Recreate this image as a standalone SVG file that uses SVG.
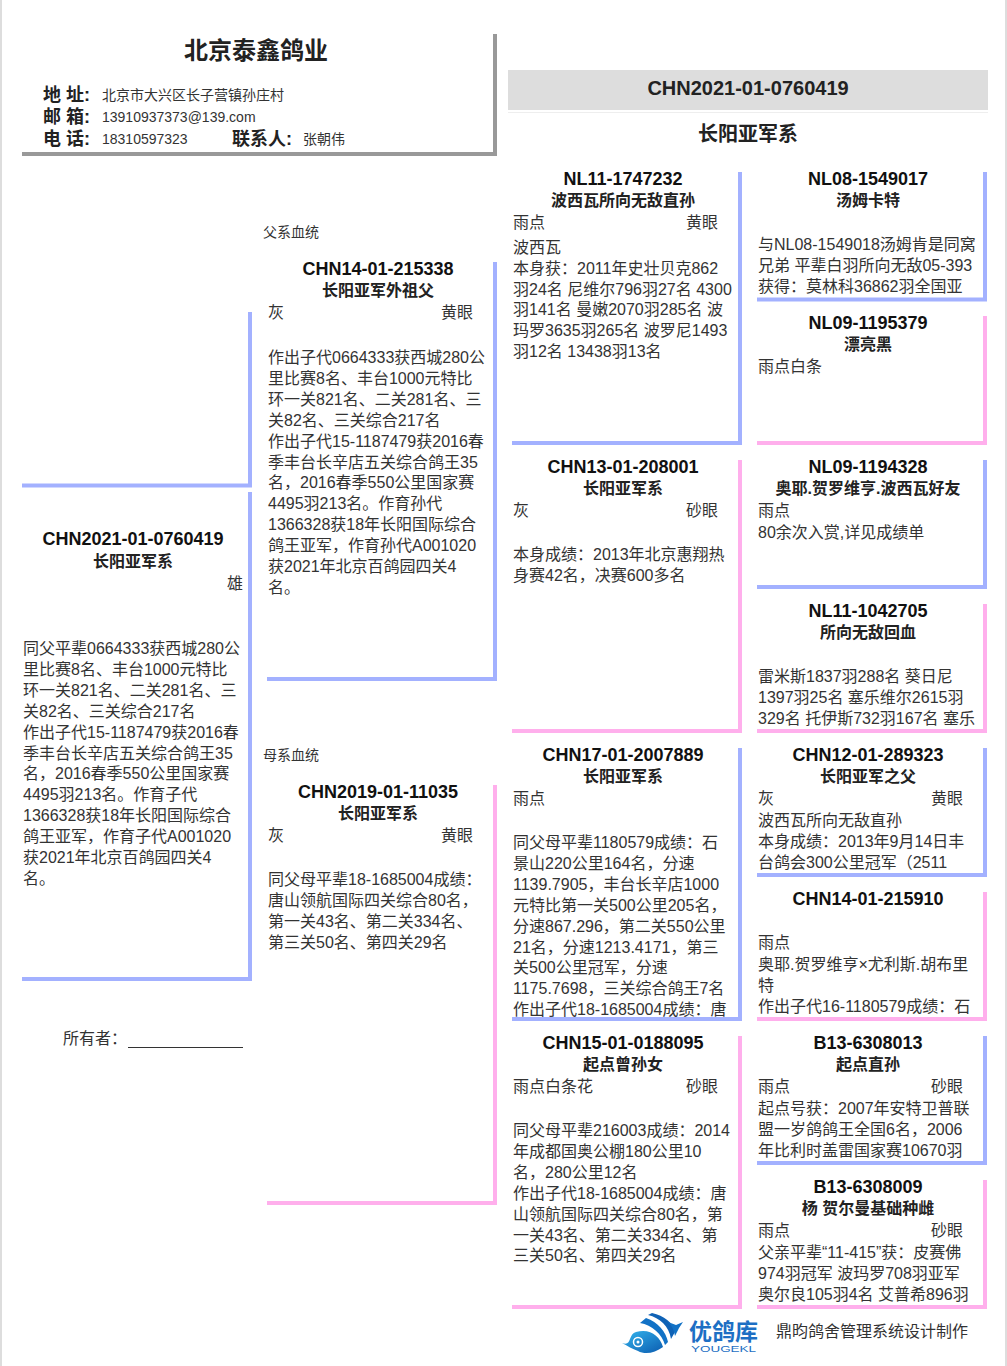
<svg xmlns="http://www.w3.org/2000/svg" width="1007" height="1366" viewBox="0 0 1007 1366">
<defs><linearGradient id="lg" x1="0" y1="0" x2="1" y2="1"><stop offset="0" stop-color="#35b6ee"/><stop offset="1" stop-color="#0b5cb0"/></linearGradient></defs>
<style>
text{font-family:"Liberation Sans","Noto Sans CJK SC",sans-serif;fill:#333;font-size:16px}
.t{font-weight:700;font-size:18px;text-anchor:middle;fill:#111}
.n{font-weight:700;font-size:16px;text-anchor:middle;fill:#222}
.h{font-weight:700;font-size:18px;fill:#222}
.s{font-size:14px}
.r{font-size:14px;fill:#333}
.bar{fill:none;stroke-width:4}
.m{stroke:#a3b1ff}
.f{stroke:#ffafec}
.g{stroke:#999}
</style>
<rect width="1007" height="1366" fill="#fff"/>
<path d="M1 0V1366M1006 0V1366" stroke="#ddd" stroke-width="2" fill="none"/>
<g id="header">
<text x="256" y="59" text-anchor="middle" style="font-weight:700;font-size:24px;fill:#222">北京泰鑫鸽业</text>
<text x="43" y="101" class="h">地 址:</text><text x="102" y="100" class="s">北京市大兴区长子营镇孙庄村</text>
<text x="43" y="123" class="h">邮 箱:</text><text x="102" y="122" class="s">13910937373@139.com</text>
<text x="43" y="145" class="h">电 话:</text><text x="102" y="144" class="s">18310597323</text>
<text x="232" y="145" class="h">联系人:</text><text x="303" y="144" class="s">张朝伟</text>
</g>
<g id="subject-title">
<rect x="508" y="70" width="480" height="40" fill="#ddd"/>
<path d="M508 112.500H988" stroke="#eee" fill="none"/>
<text x="748" y="95" text-anchor="middle" style="font-weight:700;font-size:20px;fill:#222">CHN2021-01-0760419</text>
<text x="748" y="141" text-anchor="middle" style="font-weight:700;font-size:20px;fill:#222">长阳亚军系</text>
</g>
<text id="sire-label" x="263" y="237" class="r">父系血统</text>
<text id="dam-label" x="263" y="760" class="r">母系血统</text>
<g id="node-subject">
<text x="133" y="545" class="t">CHN2021-01-0760419</text>
<text x="133" y="567" class="n">长阳亚军系</text>
<text x="227" y="589">雄</text>
<text x="23" y="654">同父平辈0664333获西城280公<tspan x="23" dy="20.9">里比赛8名、丰台1000元特比</tspan><tspan x="23" dy="20.9">环一关821名、二关281名、三</tspan><tspan x="23" dy="20.9">关82名、三关综合217名</tspan><tspan x="23" dy="20.9">作出子代15-1187479获2016春</tspan><tspan x="23" dy="20.9">季丰台长辛店五关综合鸽王35</tspan><tspan x="23" dy="20.9">名，2016春季550公里国家赛</tspan><tspan x="23" dy="20.9">4495羽213名。作育子代</tspan><tspan x="23" dy="20.9">1366328获18年长阳国际综合</tspan><tspan x="23" dy="20.9">鸽王亚军，作育子代A001020</tspan><tspan x="23" dy="20.9">获2021年北京百鸽园四关4</tspan><tspan x="23" dy="20.9">名。</tspan></text>
<text x="63" y="1044">所有者：</text>
<path d="M128 1047.500H243" stroke="#333" fill="none"/>
</g>
<g id="node-sire">
<text x="378" y="275" class="t">CHN14-01-215338</text>
<text x="378" y="296" class="n">长阳亚军外祖父</text>
<text x="268" y="318">灰</text><text x="441" y="318">黄眼</text>
<text x="268" y="363">作出子代0664333获西城280公<tspan x="268" dy="20.9">里比赛8名、丰台1000元特比</tspan><tspan x="268" dy="20.9">环一关821名、二关281名、三</tspan><tspan x="268" dy="20.9">关82名、三关综合217名</tspan><tspan x="268" dy="20.9">作出子代15-1187479获2016春</tspan><tspan x="268" dy="20.9">季丰台长辛店五关综合鸽王35</tspan><tspan x="268" dy="20.9">名，2016春季550公里国家赛</tspan><tspan x="268" dy="20.9">4495羽213名。作育孙代</tspan><tspan x="268" dy="20.9">1366328获18年长阳国际综合</tspan><tspan x="268" dy="20.9">鸽王亚军，作育孙代A001020</tspan><tspan x="268" dy="20.9">获2021年北京百鸽园四关4</tspan><tspan x="268" dy="20.9">名。</tspan></text>
</g>
<g id="node-dam">
<text x="378" y="798" class="t">CHN2019-01-11035</text>
<text x="378" y="819" class="n">长阳亚军系</text>
<text x="268" y="841">灰</text><text x="441" y="841">黄眼</text>
<text x="268" y="885">同父母平辈18-1685004成绩：<tspan x="268" dy="20.9">唐山领航国际四关综合80名，</tspan><tspan x="268" dy="20.9">第一关43名、第二关334名、</tspan><tspan x="268" dy="20.9">第三关50名、第四关29名</tspan></text>
</g>
<g id="node-ss">
<text x="623" y="185" class="t">NL11-1747232</text>
<text x="623" y="206" class="n">波西瓦所向无敌直孙</text>
<text x="513" y="228">雨点</text><text x="686" y="228">黄眼</text>
<text x="513" y="253">波西瓦<tspan x="513" dy="20.8">本身获：2011年史壮贝克862</tspan><tspan x="513" dy="20.8">羽24名 尼维尔796羽27名 4300</tspan><tspan x="513" dy="20.8">羽141名 曼嫩2070羽285名 波</tspan><tspan x="513" dy="20.8">玛罗3635羽265名 波罗尼1493</tspan><tspan x="513" dy="20.8">羽12名 13438羽13名</tspan></text>
</g>
<g id="node-sd">
<text x="623" y="473" class="t">CHN13-01-208001</text>
<text x="623" y="494" class="n">长阳亚军系</text>
<text x="513" y="516">灰</text><text x="686" y="516">砂眼</text>
<text x="513" y="560">本身成绩：2013年北京惠翔热<tspan x="513" dy="20.9">身赛42名，决赛600多名</tspan></text>
</g>
<g id="node-ds">
<text x="623" y="761" class="t">CHN17-01-2007889</text>
<text x="623" y="782" class="n">长阳亚军系</text>
<text x="513" y="804">雨点</text>
<text x="513" y="848">同父母平辈1180579成绩：石<tspan x="513" dy="20.9">景山220公里164名，分速</tspan><tspan x="513" dy="20.9">1139.7905，丰台长辛店1000</tspan><tspan x="513" dy="20.9">元特比第一关500公里205名，</tspan><tspan x="513" dy="20.9">分速867.296，第二关550公里</tspan><tspan x="513" dy="20.9">21名，分速1213.4171，第三</tspan><tspan x="513" dy="20.9">关500公里冠军，分速</tspan><tspan x="513" dy="20.9">1175.7698，三关综合鸽王7名</tspan><tspan x="513" dy="20.9">作出子代18-1685004成绩：唐</tspan></text>
</g>
<g id="node-dd">
<text x="623" y="1049" class="t">CHN15-01-0188095</text>
<text x="623" y="1070" class="n">起点曾孙女</text>
<text x="513" y="1092">雨点白条花</text><text x="686" y="1092">砂眼</text>
<text x="513" y="1136">同父母平辈216003成绩：2014<tspan x="513" dy="20.9">年成都国奥公棚180公里10</tspan><tspan x="513" dy="20.9">名，280公里12名</tspan><tspan x="513" dy="20.9">作出子代18-1685004成绩：唐</tspan><tspan x="513" dy="20.9">山领航国际四关综合80名，第</tspan><tspan x="513" dy="20.9">一关43名、第二关334名、第</tspan><tspan x="513" dy="20.9">三关50名、第四关29名</tspan></text>
</g>
<g id="node-sss">
<text x="868" y="185" class="t">NL08-1549017</text>
<text x="868" y="206" class="n">汤姆卡特</text>
<text x="758" y="250">与NL08-1549018汤姆肯是同窝<tspan x="758" dy="20.9">兄弟 平辈白羽所向无敌05-393</tspan><tspan x="758" dy="20.9">获得：莫林科36862羽全国亚</tspan></text>
</g>
<g id="node-ssd">
<text x="868" y="329" class="t">NL09-1195379</text>
<text x="868" y="350" class="n">漂亮黑</text>
<text x="758" y="372">雨点白条</text>
</g>
<g id="node-sds">
<text x="868" y="473" class="t">NL09-1194328</text>
<text x="868" y="494" class="n">奥耶.贺罗维亨.波西瓦好友</text>
<text x="758" y="516">雨点</text>
<text x="758" y="538">80余次入赏,详见成绩单</text>
</g>
<g id="node-sdd">
<text x="868" y="617" class="t">NL11-1042705</text>
<text x="868" y="638" class="n">所向无敌回血</text>
<text x="758" y="682">雷米斯1837羽288名 葵日尼<tspan x="758" dy="20.9">1397羽25名 塞乐维尔2615羽</tspan><tspan x="758" dy="20.9">329名 托伊斯732羽167名 塞乐</tspan></text>
</g>
<g id="node-dss">
<text x="868" y="761" class="t">CHN12-01-289323</text>
<text x="868" y="782" class="n">长阳亚军之父</text>
<text x="758" y="804">灰</text><text x="931" y="804">黄眼</text>
<text x="758" y="826">波西瓦所向无敌直孙<tspan x="758" dy="20.9">本身成绩：2013年9月14日丰</tspan><tspan x="758" dy="20.9">台鸽会300公里冠军（2511</tspan></text>
</g>
<g id="node-dsd">
<text x="868" y="905" class="t">CHN14-01-215910</text>
<text x="758" y="948">雨点</text>
<text x="758" y="970">奥耶.贺罗维亨×尤利斯.胡布里<tspan x="758" dy="20.9">特</tspan><tspan x="758" dy="20.9">作出子代16-1180579成绩：石</tspan></text>
</g>
<g id="node-dds">
<text x="868" y="1049" class="t">B13-6308013</text>
<text x="868" y="1070" class="n">起点直孙</text>
<text x="758" y="1092">雨点</text><text x="931" y="1092">砂眼</text>
<text x="758" y="1114">起点号获：2007年安特卫普联<tspan x="758" dy="20.9">盟一岁鸽鸽王全国6名，2006</tspan><tspan x="758" dy="20.9">年比利时盖雷国家赛10670羽</tspan></text>
</g>
<g id="node-ddd">
<text x="868" y="1193" class="t">B13-6308009</text>
<text x="868" y="1214" class="n">杨 贺尔曼基础种雌</text>
<text x="758" y="1236">雨点</text><text x="931" y="1236">砂眼</text>
<text x="758" y="1258">父亲平辈“11-415”获：皮赛佛<tspan x="758" dy="20.9">974羽冠军 波玛罗708羽亚军</tspan><tspan x="758" dy="20.9">奥尔良105羽4名 艾普希896羽</tspan></text>
</g>
<g id="connectors">
<path class="bar m" d="M22 485.500H250V312"/>
<path class="bar m" d="M22 979H250V492"/>
<path class="bar m" d="M267 679H495V262"/>
<path class="bar f" d="M267 1203H495V785"/>
<path class="bar g" d="M22 154H495V34"/>
<path class="bar m" d="M512 443H740V172"/>
<path class="bar f" d="M512 731H740V460"/>
<path class="bar m" d="M512 1019H740V748"/>
<path class="bar f" d="M512 1307H740V1036"/>
<path class="bar m" d="M757 299.500H985V172"/>
<path class="bar f" d="M757 443H985V316"/>
<path class="bar m" d="M757 587H985V460"/>
<path class="bar f" d="M757 731H985V604"/>
<path class="bar m" d="M757 875H985V748"/>
<path class="bar f" d="M757 1019H985V892"/>
<path class="bar m" d="M757 1163H985V1036"/>
<path class="bar f" d="M757 1307H985V1180"/>
</g>
<g id="footer">
<path d="M622 1343C632 1347 628 1334 636 1332C650 1328 660 1336 663 1347C655 1353 645 1355 638 1351C632 1349 628 1346 622 1343Z" fill="url(#lg)"/>
<circle cx="638" cy="1342" r="4.500" fill="none" stroke="#fff" stroke-width="1.500"/>
<circle cx="638" cy="1342" r="1.500" fill="#fff"/>
<path d="M640 1323C652 1325 662 1334 665 1345L668 1342C666 1332 658 1322 646 1318Z" fill="#1272c6"/>
<path d="M648 1315C660 1318 669 1326 671 1339L675 1332C673 1322 664 1316 652 1313Z" fill="#0f62b6"/>
<path d="M668 1322L676 1325L683 1322L679 1328C677 1332 676 1334 675 1336C674 1330 672 1326 668 1322Z" fill="#1272c6"/>
<text x="689" y="1340" style="font-size:23px;font-weight:700;fill:#1d6fc4">优鸽库</text>
<text x="691" y="1352" textLength="65" lengthAdjust="spacingAndGlyphs" style="font-size:9px;fill:#1d6fc4">YOUGEKL</text>
<text x="776" y="1337">鼎昀鸽舍管理系统设计制作</text>
</g>
</svg>
